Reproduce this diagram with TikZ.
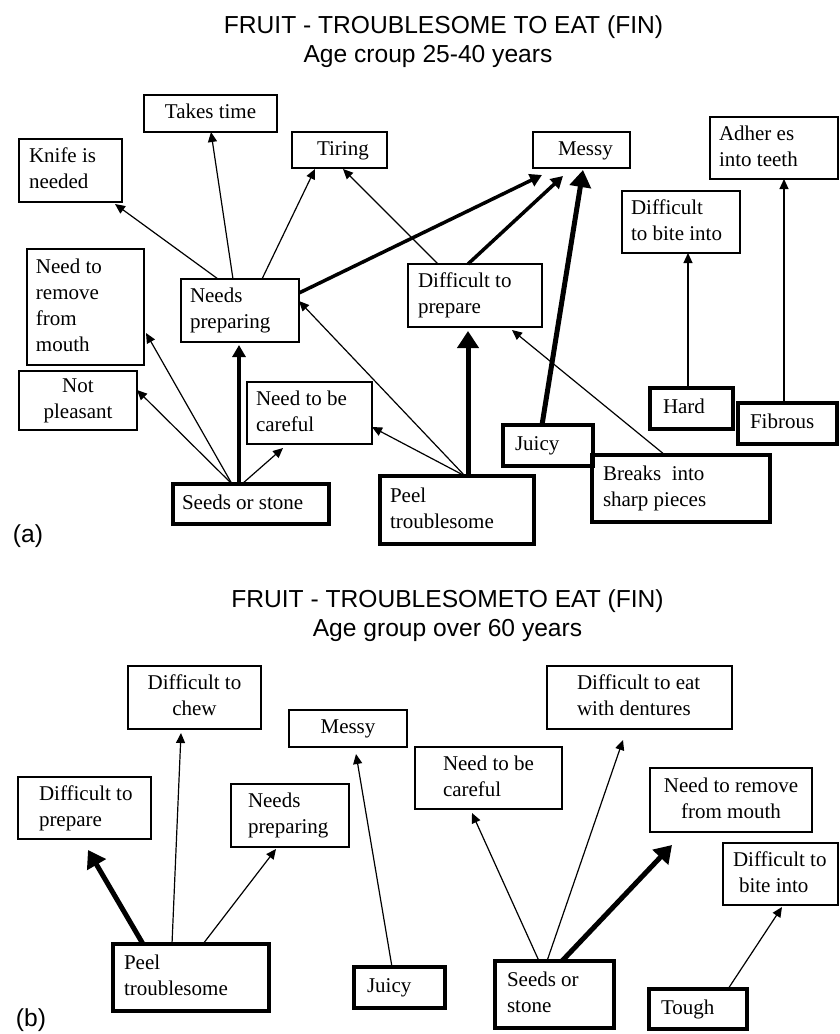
\documentclass[tikz,border=0pt]{standalone}
\usepackage{fontspec}
\setmainfont{Liberation Serif}
\newfontfamily\headfont{Liberation Sans}
\usetikzlibrary{arrows.meta,calc}

% box given by its edges (left, top, right, bottom), text set flush left after a pad
\newcommand\lbox[8]{%
  \pgfmathsetmacro\boxw{#5-#3}\pgfmathsetmacro\boxh{#6-#4}%
  \node[#1, minimum width=\boxw pt, minimum height=\boxh pt] (#2) at ({(#3+#5)/2},{(#4+#6)/2})
    {\makebox[\boxw pt][l]{\hspace*{#7pt}\begin{tabular}{@{}l@{}}#8\end{tabular}}};}
% same, with centred lines
\newcommand\cbox[7]{%
  \pgfmathsetmacro\boxw{#5-#3}\pgfmathsetmacro\boxh{#6-#4}%
  \node[#1, minimum width=\boxw pt, minimum height=\boxh pt] (#2) at ({(#3+#5)/2},{(#4+#6)/2})
    {\makebox[\boxw pt][c]{\begin{tabular}{@{}c@{}}#7\end{tabular}}};}

\begin{document}
\begin{tikzpicture}[x=1pt,y=-1pt,
  boxthin/.style={draw, line width=1.2pt, inner sep=0pt, outer sep=0pt, font=\fontsize{21}{26}\selectfont},
  boxthick/.style={draw, line width=3.2pt, inner sep=0pt, outer sep=0pt, font=\fontsize{21}{26}\selectfont},
  head/.style={font=\headfont\fontsize{24.6}{30}\selectfont, inner sep=0pt},
  link/.style={line width=1.2pt, -{Triangle[length=10pt,width=9pt]}},
  linkmid/.style={line width=3.5pt, -{Triangle[length=12pt,width=13pt]}},
  linkheavy/.style={line width=5pt, -{Triangle[length=17pt,width=21pt]}}]
\useasboundingbox (0,0) rectangle (839,1034);

% ---------------- (a) age 25-40 ----------------
\node[head, anchor=base] (titleA) at (443.5,33) {FRUIT - TROUBLESOME TO EAT (FIN)};
\node[head, anchor=base] (subA) at (428,62) {Age croup 25-40 years};
\node[head] (labA) at (28,536) {(a)};

\lbox{boxthin}{knife}{19}{139}{122}{202}{10}{Knife is\\needed}
\cbox{boxthin}{takes}{144}{95}{277}{132}{Takes time}
\lbox{boxthin}{tiring}{292}{132}{387}{168}{25}{Tiring}
\lbox{boxthin}{messyA}{533}{132}{630}{168}{25}{Messy}
\lbox{boxthin}{adheres}{710}{117}{838}{179}{9}{Adher es\\into teeth}
\lbox{boxthin}{biteA}{622}{191}{740}{253}{9}{Difficult\\to bite into}
\lbox{boxthin}{remove}{27}{249}{144}{365}{9}{Need to\\remove\\from\\mouth}
\lbox{boxthin}{needsA}{181}{279}{299}{342}{9}{Needs\\preparing}
\lbox{boxthin}{prepA}{408}{264}{542}{327}{10}{Difficult to\\prepare}
\cbox{boxthin}{notpl}{19}{371}{137}{430}{Not\\pleasant}
\lbox{boxthin}{carefulA}{247}{382}{372}{444}{9}{Need to be\\careful}
\lbox{boxthick}{hard}{650}{388}{733}{429}{13}{Hard}
\lbox{boxthick}{fibrous}{738}{403}{837}{444}{12}{Fibrous}
\lbox{boxthick}{juicyA}{503}{425}{593}{466}{12}{Juicy}
\lbox{boxthick}{breaks}{592}{455}{770}{522}{11}{Breaks\ \ into\\sharp pieces}
\lbox{boxthick}{seedsA}{173}{484}{329}{524}{9}{Seeds or stone}
\lbox{boxthick}{peelA}{380}{476}{534}{544}{10}{Peel\\troublesome}

\draw[link] ($(needsA.north west)+(37,0)$) -- ($(knife.south west)+(96,2)$);
\draw[link] ($(needsA.north west)+(52,0)$) -- ($(takes.south west)+(67,0)$);
\draw[link] ($(needsA.north west)+(81,0)$) -- ($(tiring.south west)+(23,1)$);
\draw[link] ($(prepA.north west)+(30,0)$) -- ($(tiring.south west)+(51,1)$);
\draw[linkmid] ($(needsA.north east)+(0,14)$) -- ($(messyA.south west)+(9,7)$);
\draw[linkmid] ($(prepA.north west)+(60,0)$) -- ($(messyA.south west)+(30,8)$);
\draw[linkheavy] ($(juicyA.north west)+(39,0)$) -- ($(messyA.south west)+(50,2)$);
\draw[link] ($(peelA.north west)+(85,0)$) -- ($(needsA.north east)+(0,22)$);
\draw[link] ($(peelA.north west)+(85,0)$) -- ($(carefulA.north east)+(0,45)$);
\draw[linkheavy] ($(peelA.north west)+(88,0)$) -- ($(prepA.south west)+(60,4)$);
\draw[link] ($(breaks.north west)+(73,0)$) -- ($(prepA.south west)+(104,3)$);
\draw[link] ($(hard.north west)+(38,0)$) -- ($(biteA.south west)+(66,0)$);
\draw[link] ($(fibrous.north west)+(46,0)$) -- ($(adheres.south west)+(74,0)$);
\draw[link] ($(seedsA.north west)+(59,0)$) -- ($(remove.north east)+(2,84)$);
\draw[link] ($(seedsA.north west)+(59,0)$) -- ($(notpl.north east)+(0,19)$);
\draw[linkmid] ($(seedsA.north west)+(66,0)$) -- ($(needsA.south west)+(58,3)$);
\draw[link] ($(seedsA.north west)+(69,0)$) -- ($(carefulA.south west)+(36,4)$);

% ---------------- (b) age over 60 ----------------
\node[head, anchor=base] (titleB) at (447.5,607) {FRUIT - TROUBLESOMETO EAT (FIN)};
\node[head, anchor=base] (subB) at (447.5,636) {Age group over 60 years};
\node[head] (labB) at (31,1020) {(b)};

\cbox{boxthin}{chew}{128}{666}{261}{729}{Difficult to\\chew}
\lbox{boxthin}{prepB}{18}{777}{151}{839}{21}{Difficult to\\prepare}
\lbox{boxthin}{needsB}{231}{784}{349}{847}{17}{Needs\\preparing}
\cbox{boxthin}{messyB}{289}{710}{407}{747}{Messy}
\lbox{boxthin}{carefulB}{415}{747}{562}{809}{28}{Need to be\\careful}
\lbox{boxthin}{dentures}{547}{666}{732}{729}{30}{Difficult to eat\\with dentures}
\cbox{boxthin}{removeB}{650}{768}{812}{832}{Need to remove\\from mouth}
\lbox{boxthin}{biteB}{723}{843}{838}{905}{10}{Difficult to\\\hspace*{6pt}bite into}
\lbox{boxthick}{peelB}{113}{944}{269}{1011}{11}{Peel\\troublesome}
\lbox{boxthick}{juicyB}{354}{967}{445}{1008}{13}{Juicy}
\lbox{boxthick}{seedsB}{495}{961}{614}{1028}{12}{Seeds or\\stone}
\lbox{boxthick}{tough}{649}{989}{747}{1029}{12}{Tough}

\draw[linkheavy] ($(peelB.north west)+(30,0)$) -- ($(prepB.south west)+(70,11)$);
\draw[link] ($(peelB.north west)+(59,0)$) -- ($(chew.south west)+(53,4)$);
\draw[link] ($(peelB.north west)+(90,0)$) -- ($(needsB.south west)+(45,2)$);
\draw[link] ($(juicyB.north west)+(38,0)$) -- ($(messyB.south west)+(67,7)$);
\draw[link] ($(seedsB.north west)+(44,0)$) -- ($(carefulB.south west)+(57,4)$);
\draw[link] ($(seedsB.north west)+(52,0)$) -- ($(dentures.south west)+(76,11)$);
\draw[linkheavy] ($(seedsB.north west)+(67,0)$) -- ($(removeB.south west)+(22,13)$);
\draw[link] ($(tough.north west)+(79,0)$) -- ($(biteB.south west)+(59,2)$);
\end{tikzpicture}
\end{document}
